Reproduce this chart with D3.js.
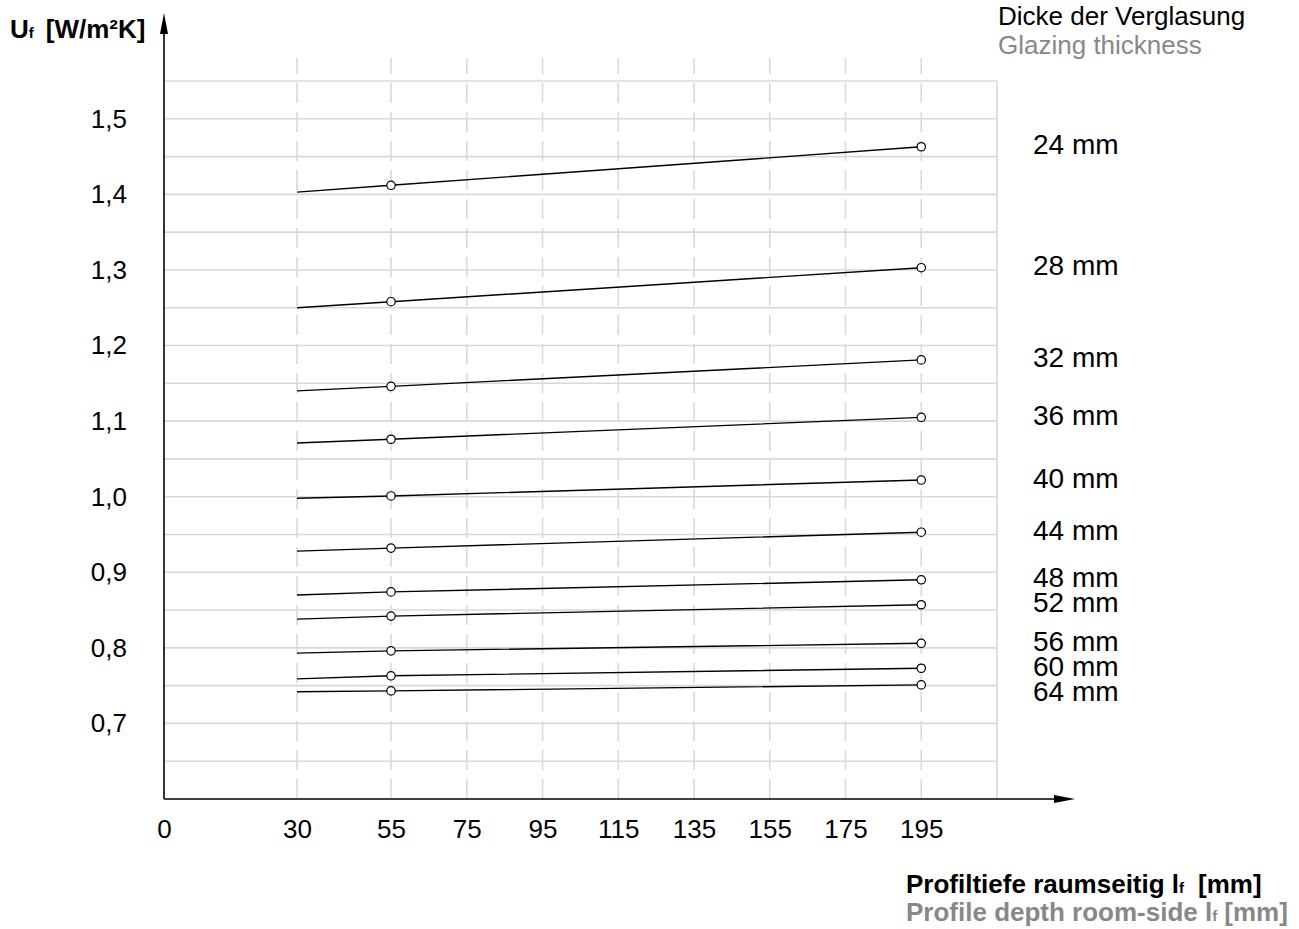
<!DOCTYPE html>
<html>
<head>
<meta charset="utf-8">
<script src="https://cdn.jsdelivr.net/npm/d3@7"></script>
<style>
  body { margin: 0; background: #fff; }
  svg { display: block; font-family: "Liberation Sans", Arial, sans-serif; }
  .grid line { stroke: #d9d9d9; stroke-width: 1.6; }
  .line { fill: none; stroke: #000; stroke-width: 1.4; }
  .marker { fill: #fff; stroke: #000; stroke-width: 1.2; }
</style>
</head>
<body>
<svg id="chart"></svg>
<script>
// profile depth (x) positions where values were measured
const depths = [30, 55, 195];
const xTicks = [0, 30, 55, 75, 95, 115, 135, 155, 175, 195];
const yTicks = [0.7, 0.8, 0.9, 1.0, 1.1, 1.2, 1.3, 1.4, 1.5];
const glazing = ["24 mm", "28 mm", "32 mm", "36 mm", "40 mm", "44 mm", "48 mm", "52 mm", "56 mm", "60 mm", "64 mm"];

// Uf values at 30 / 55 / 195 mm
const uf24 = [1.403, 1.412, 1.463];
const uf28 = [1.250, 1.258, 1.303];
const uf32 = [1.140, 1.146, 1.181];
const uf36 = [1.071, 1.076, 1.105];
const uf40 = [0.998, 1.001, 1.022];
const uf44 = [0.928, 0.932, 0.953];
const uf48 = [0.870, 0.874, 0.890];
const uf52 = [0.838, 0.842, 0.857];
const uf56 = [0.793, 0.796, 0.806];
const uf60 = [0.759, 0.763, 0.773];
const uf64 = [0.742, 0.743, 0.751];

const series = [uf24, uf28, uf32, uf36, uf40, uf44, uf48, uf52, uf56, uf60, uf64];

const W = 1299, H = 929;
const svg = d3.select("#chart").attr("width", W).attr("height", H);

// x axis is not linear over the whole range (0-30 and 30-55 are stretched)
const x = d3.scaleLinear()
  .domain([0, 30, 55, 215])
  .range([164, 297, 391, 997]);
const y = d3.scaleLinear()
  .domain([0.6, 1.55])
  .range([799, 81]);

const de = d3.formatLocale({ decimal: ",", thousands: ".", grouping: [3], currency: ["", "€"] });
const fmt = de.format(".1f");

// horizontal grid every 0.05
const grid = svg.append("g").attr("class", "grid");
grid.selectAll(".h")
  .data(d3.range(13, 32).map(i => i * 0.05))
  .join("line")
  .attr("x1", x(0)).attr("x2", x(215))
  .attr("y1", d => y(d)).attr("y2", d => y(d));

// vertical dashed grid
grid.selectAll(".v")
  .data(xTicks.filter(d => d > 0))
  .join("line")
  .attr("x1", d => x(d)).attr("x2", d => x(d))
  .attr("y1", y(0.6)).attr("y2", 58)
  .attr("stroke-dasharray", "20,9");

// right border
grid.append("line")
  .attr("x1", x(215)).attr("x2", x(215))
  .attr("y1", y(0.6)).attr("y2", y(1.55));

// axes (labels only, lines drawn with arrows)
svg.append("g")
  .attr("transform", "translate(" + x(0) + ",0)")
  .call(d3.axisLeft(y).tickValues(yTicks).tickSize(0).tickPadding(37).tickFormat(fmt))
  .call(g => g.select(".domain").remove())
  .selectAll("text")
  .attr("font-size", 26)
  .attr("font-family", "Liberation Sans, Arial, sans-serif")
  .attr("fill", "#000");

svg.append("g")
  .attr("transform", "translate(0," + y(0.6) + ")")
  .call(d3.axisBottom(x).tickValues(xTicks).tickSize(0).tickPadding(21).tickFormat(d3.format("d")))
  .call(g => g.select(".domain").remove())
  .selectAll("text")
  .attr("font-size", 26)
  .attr("font-family", "Liberation Sans, Arial, sans-serif")
  .attr("fill", "#000");

// axis lines with arrow heads
svg.append("line")
  .attr("x1", x(0)).attr("x2", x(0))
  .attr("y1", y(0.6)).attr("y2", 30)
  .attr("stroke", "#000").attr("stroke-width", 1.6);
svg.append("path")
  .attr("d", "M" + x(0) + ",13 L" + (x(0) - 4) + ",34 L" + (x(0) + 4) + ",34 Z")
  .attr("fill", "#000");
svg.append("line")
  .attr("x1", x(0)).attr("x2", 1058)
  .attr("y1", y(0.6)).attr("y2", y(0.6))
  .attr("stroke", "#000").attr("stroke-width", 1.6);
svg.append("path")
  .attr("d", "M1075," + y(0.6) + " L1054," + (y(0.6) - 4) + " L1054," + (y(0.6) + 4) + " Z")
  .attr("fill", "#000");

// curves
const line = d3.line()
  .x((d, i) => x(depths[i]))
  .y(d => y(d));

const groups = svg.append("g").selectAll("g")
  .data(series)
  .join("g");

groups.append("path")
  .attr("class", "line")
  .attr("d", d => line(d));

groups.selectAll("circle")
  .data(d => d.slice(1).map((v, i) => ({ x: depths[i + 1], v: v })))
  .join("circle")
  .attr("class", "marker")
  .attr("cx", d => x(d.x))
  .attr("cy", d => y(d.v))
  .attr("r", 4.2);

// glazing thickness labels, pushed down so they keep a min spacing
const labelY = [];
series.forEach((d, i) => {
  let ly = y(d[2]) - 2;
  if (i > 0 && ly - labelY[i - 1] < 25) ly = labelY[i - 1] + 25;
  labelY.push(ly);
});

svg.append("g").selectAll("text")
  .data(series)
  .join("text")
  .attr("x", 1033)
  .attr("y", (d, i) => labelY[i])
  .attr("dominant-baseline", "central")
  .attr("font-size", 28)
  .attr("fill", "#000")
  .text((d, i) => glazing[i]);

// titles
svg.append("text")
  .attr("x", 998).attr("y", 25)
  .attr("font-size", 26)
  .attr("fill", "#000")
  .text("Dicke der Verglasung");
svg.append("text")
  .attr("x", 998).attr("y", 54)
  .attr("font-size", 26)
  .attr("fill", "#888")
  .text("Glazing thickness");

const yl = svg.append("text")
  .attr("x", 10).attr("y", 38)
  .attr("font-size", 26)
  .attr("font-weight", "bold")
  .attr("fill", "#000");
yl.append("tspan").text("U");
yl.append("tspan").attr("font-size", 15).text("f");
yl.append("tspan").attr("dx", 12).text("[W/m²K]");

const xl1 = svg.append("text")
  .attr("x", 906).attr("y", 893)
  .attr("font-size", 26)
  .attr("font-weight", "bold")
  .attr("fill", "#000");
xl1.append("tspan").text("Profiltiefe raumseitig l");
xl1.append("tspan").attr("font-size", 15).text("f");
xl1.append("tspan").attr("dx", 14).text("[mm]");

const xl2 = svg.append("text")
  .attr("x", 906).attr("y", 921)
  .attr("font-size", 26)
  .attr("font-weight", "bold")
  .attr("fill", "#888");
xl2.append("tspan").text("Profile depth room-side l");
xl2.append("tspan").attr("font-size", 15).text("f");
xl2.append("tspan").attr("dx", 7).text("[mm]");
</script>
</body>
</html>
